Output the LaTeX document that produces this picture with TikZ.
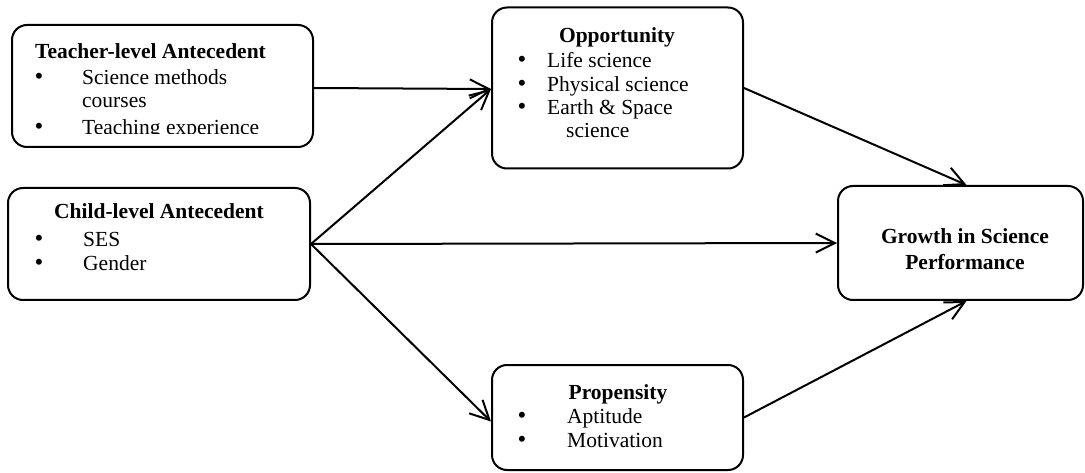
\documentclass[tikz,border=0pt]{standalone}
\usepackage{fontspec}
\setmainfont{Liberation Serif}
\usetikzlibrary{arrows.meta,calc}
\begin{document}
\begin{tikzpicture}[x=1pt,y=-1pt,
  box/.style={draw,line width=2pt,rounded corners=15pt,inner sep=0pt},
  txt/.style={inner sep=0pt,font=\fontsize{21.5}{24}\selectfont},
  hd/.style={txt,font=\fontsize{21.5}{24}\selectfont\bfseries},
  bul/.style={inner sep=0pt,anchor=base,font=\fontsize{25}{26}\selectfont},
  link/.style={line width=2pt,-{Straight Barb[length=19pt,width=19pt,line width=2pt]}}]
\useasboundingbox (0,0) rectangle (1085,473);

% boxes
\node[box,minimum width=301pt,minimum height=122pt] (teacher) at (162.5,86) {};
\node[box,minimum width=251pt,minimum height=161pt] (opp) at (617.5,88) {};
\node[box,minimum width=302pt,minimum height=112pt] (child) at (159,244) {};
\node[box,minimum width=251pt,minimum height=105pt] (prop) at (617.5,417.5) {};
\node[box,minimum width=245pt,minimum height=114pt] (growth) at (960.5,243) {};

% teacher-level text, cut off at the lower edge of the text area
\begin{scope}
\clip (14,30) rectangle (310,134);
\node[hd,anchor=base west] (tt) at (35,59) {Teacher-level Antecedent};
\node[bul] (tb1) at (39,85) {•};
\node[txt,anchor=base west] (tl1) at (82,85) {Science methods};
\node[txt,anchor=base west] (tl2) at (82,108) {courses};
\node[bul] (tb2) at (39,135) {•};
\node[txt,anchor=base west] (tl3) at (82,135) {Teaching experience};
\end{scope}

% opportunity text
\node[hd,anchor=base] (ot) at (617,43) {Opportunity};
\foreach \y/\t [count=\i] in {68/Life science,92/Physical science,115/Earth \& Space}{
  \node[bul] (ob\i) at (522,\y) {•};
  \node[txt,anchor=base west] (ol\i) at (547,\y) {\t};
}
\node[txt,anchor=base west] (ol4) at (566,138) {science};

% child-level text
\node[hd,anchor=base] (ct) at (159,219) {Child-level Antecedent};
\node[bul] (cb1) at (39,247) {•};
\node[txt,anchor=base west] (cl1) at (83,247) {SES};
\node[bul] (cb2) at (39,271) {•};
\node[txt,anchor=base west] (cl2) at (83,271) {Gender};

% propensity text
\node[hd,anchor=base] (pt) at (618,399) {Propensity};
\node[bul] (pb1) at (522,423) {•};
\node[txt,anchor=base west] (pl1) at (567,423) {Aptitude};
\node[bul] (pb2) at (522,447) {•};
\node[txt,anchor=base west] (pl2) at (567,447) {Motivation};

% outcome text
\node[hd,anchor=base] (gt1) at (965,244) {Growth in Science};
\node[hd,anchor=base] (gt2) at (965,270) {Performance};

% paths
\draw[link] (teacher.east |- opp.west) -- ($(opp.west)+(0,1)$);
\draw[link] (child.east) -- ($(opp.west)+(0,1)$);
\draw[link] (child.east) -- (growth.west);
\draw[link] (child.east) -- ($(prop.west)+(0,4)$);
\draw[link] (opp.east) -- ($(growth.north)+(6,0)$);
\draw[link] (prop.east) -- ($(growth.south)+(6,0)$);
\end{tikzpicture}
\end{document}
